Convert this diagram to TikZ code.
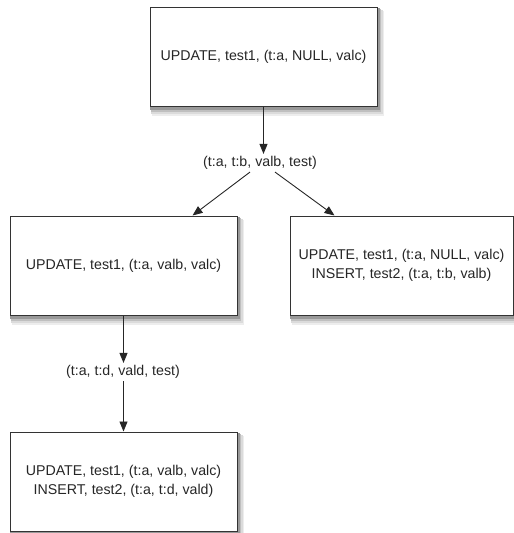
\documentclass[tikz,border=0pt]{standalone}
\usepackage{fontspec}
\setmainfont{Liberation Sans}
\usepackage{tikz}
\usetikzlibrary{backgrounds,arrows.meta}
\def\boxwidth{227pt}
\def\boxheight{99pt}

\begin{document}
\begin{tikzpicture}[x=1pt,y=-1pt,draw=black!85,line width=0.9pt]
	\tikzstyle{op box}=[rectangle,draw=black!80,fill=white,line width=1pt,minimum width=\boxwidth,minimum height=\boxheight,inner sep=0pt,align=center,font={\fontsize{14.2}{19}\selectfont},text=black!85]
	\tikzstyle{tuple}=[inner sep=2pt,font={\fontsize{14.2}{17}\selectfont},text=black!85]
	\tikzstyle{link}=[-{Triangle[length=10pt,width=8pt]}]
	\useasboundingbox (0,0) rectangle (514,533);
	
	% Draw the statement boxes
	\node[op box] (top) at (263.5,56.5) {UPDATE, test1, (t:a, NULL, valc)};
	\node[op box] (left) at (123.5,265.5) {UPDATE, test1, (t:a, valb, valc)};
	\node[op box,minimum width=223pt] (right) at (401.5,265.5) {UPDATE, test1, (t:a, NULL, valc)\\INSERT, test2, (t:a, t:b, valb)};
	\node[op box] (bottom) at (123.5,481.5) {UPDATE, test1, (t:a, valb, valc)\\INSERT, test2, (t:a, t:d, vald)};
	
	% Soft shadows behind the boxes
	\begin{scope}[on background layer]
	\foreach \name in {top,left,right,bottom} {
		\fill[black!7] ([shift={(2,4)}]\name.north west) rectangle ([shift={(6,9)}]\name.south east);
		\fill[black!14] ([shift={(1.5,3)}]\name.north west) rectangle ([shift={(5,7)}]\name.south east);
		\fill[black!25] ([shift={(1,2)}]\name.north west) rectangle ([shift={(3.5,5)}]\name.south east);
		\fill[black!40] ([shift={(0.5,1)}]\name.north west) rectangle ([shift={(2,3)}]\name.south east);
	}
	\end{scope}
	
	% Draw the tuple labels
	\node[tuple] (tb) at (260,163) {(t:a, t:b, valb, test)};
	\node[tuple] (td) at (123,372) {(t:a, t:d, vald, test)};
	
	% Ends of the slanted arrows
	\coordinate (tb-l) at ([xshift=-10pt]tb.south);
	\coordinate (tb-r) at ([xshift=15pt]tb.south);
	\coordinate (left-in) at ([xshift=-45pt]left.north east);
	\coordinate (right-in) at ([xshift=45pt]right.north west);
	
	% Connect the boxes through the labels
	\draw[link] (top.south) -- (top.south |- tb.north);
	\draw[link] (tb-l) -- (left-in);
	\draw[link] (tb-r) -- (right-in);
	\draw[link] (left.south) -- (left.south |- td.north);
	\draw[link] (bottom.north |- td.south) -- (bottom.north);
\end{tikzpicture}
\end{document}
